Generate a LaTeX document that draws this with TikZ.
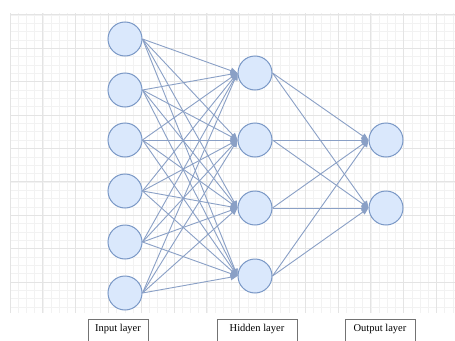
\documentclass[tikz,border=0pt]{standalone}
\usepackage{fontspec}
\setmainfont{Liberation Serif}
\usetikzlibrary{arrows.meta}
\definecolor{nfill}{HTML}{DAE8FC}
\definecolor{nline}{HTML}{7A98C6}
\definecolor{eline}{HTML}{8AA0C6}
\definecolor{gminor}{HTML}{F2F2F2}
\definecolor{gmajor}{HTML}{E4E4E4}
\tikzset{
  neuron/.style={circle, draw=nline, fill=nfill, line width=1pt, minimum size=34pt, inner sep=0pt},
  conn/.style={draw=eline, line width=0.9pt, -{Triangle[length=7pt,width=6pt]}},
  labelbox/.style={draw=black!55, line width=0.9pt, minimum width=60pt, minimum height=26pt, anchor=north, inner sep=0pt, font=\fontsize{10.5}{12}\selectfont, text depth=9pt}
}
\begin{document}
\begin{tikzpicture}[x=1pt,y=-1pt]
\useasboundingbox (0,0) rectangle (455,340);
\fill[white] (0,0) rectangle (455,340);
% grid
\begin{scope}
\clip (10,13) rectangle (455,313);
\foreach \i in {0,...,56} {
  \draw[gminor, line width=0.5pt] ({10+\i*8.2},13) -- ({10+\i*8.2},313);
}
\foreach \i in {0,...,37} {
  \draw[gminor, line width=0.5pt] (10,{14.8+\i*8.35}) -- (455,{14.8+\i*8.35});
}
\foreach \i in {0,...,14} {
  \draw[gmajor, line width=0.7pt] ({10+\i*32.8},13) -- ({10+\i*32.8},313);
}
\foreach \i in {0,...,9} {
  \draw[gmajor, line width=0.7pt] (10,{14.8+\i*33.4}) -- (455,{14.8+\i*33.4});
}
\end{scope}
% nodes
\foreach \j/\y in {1/39,2/90,3/140,4/191,5/242,6/293} {
  \node[neuron] (i\j) at (125,\y) {};
}
\foreach \j/\y in {1/73,2/140,3/208,4/276} {
  \node[neuron] (h\j) at (255,\y) {};
}
\foreach \j/\y in {1/140,2/208} {
  \node[neuron] (o\j) at (386,\y) {};
}
% connections
\foreach \a in {1,...,6} {
  \foreach \b in {1,...,4} {
    \draw[conn] (i\a.east) -- (h\b.west);
  }
}
\foreach \a in {1,...,4} {
  \foreach \b in {1,2} {
    \draw[conn] (h\a.east) -- (o\b.west);
  }
}
% labels
\node[labelbox] (lin) at (118,319) {Input layer};
\node[labelbox, minimum width=80pt] (lhid) at (257,319) {Hidden layer};
\node[labelbox, minimum width=70pt] (lout) at (380,319) {Output layer};
\end{tikzpicture}
\end{document}
